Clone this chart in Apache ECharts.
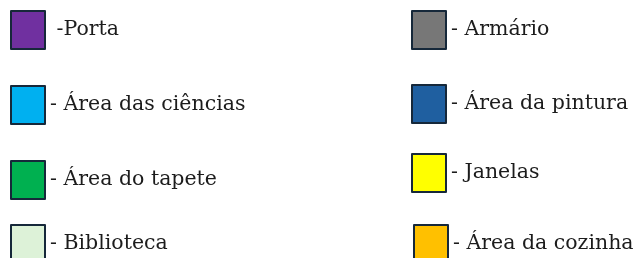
<!DOCTYPE html>
<html>
<head>
<meta charset="utf-8">
<script src="https://cdn.jsdelivr.net/npm/echarts@6/dist/echarts.min.js"></script>
<style>
  html, body { margin: 0; padding: 0; background: #ffffff; }
  #chart { width: 638px; height: 258px; }
</style>
</head>
<body>
<div id="chart"></div>
<script>
// legend entries (left column first, then right column, row by row)
const categories = ['Porta', 'Armário', 'Área das ciências', 'Área da pintura',
  'Área do tapete', 'Janelas', 'Biblioteca', 'Área da cozinha'];
const labels = [' -Porta', '- Armário', '- Área das ciências', '- Área da pintura',
  '- Área do tapete', '- Janelas', '- Biblioteca', '- Área da cozinha'];
const colors = ['#7030a0', '#777777', '#00b0f0', '#1f5fa0',
  '#00b050', '#ffff00', '#ddf2d8', '#ffc000'];
const values = [1, 1, 1, 1, 1, 1, 1, 1];

// where each legend entry sits
const lefts = [10, 411, 10, 411, 10, 411, 10, 413];
const tops = [10, 10, 85, 84, 160, 153, 224, 224];

const chart = echarts.init(document.getElementById('chart'));

const legends = categories.map((name, i) => ({
  data: [name],
  left: lefts[i],
  top: tops[i],
  padding: 0,
  selectedMode: false,
  icon: 'rect',
  itemWidth: 34,
  itemHeight: 38,
  itemStyle: { borderColor: '#16283a', borderWidth: 2 },
  formatter: () => labels[i],
  textStyle: {
    fontFamily: 'DejaVu Serif',
    fontSize: 20.5,
    color: '#1c1c1c',
    padding: [3, 0, 0, 0]
  }
}));

chart.setOption({
  backgroundColor: '#ffffff',
  animation: false,
  legend: legends,
  series: [{
    type: 'pie',
    silent: true,
    radius: [0, 1],
    center: [-50, -50],
    label: { show: false },
    labelLine: { show: false },
    data: categories.map((name, i) => ({
      name: name,
      value: values[i],
      itemStyle: { color: colors[i] }
    }))
  }]
});
</script>
</body>
</html>
